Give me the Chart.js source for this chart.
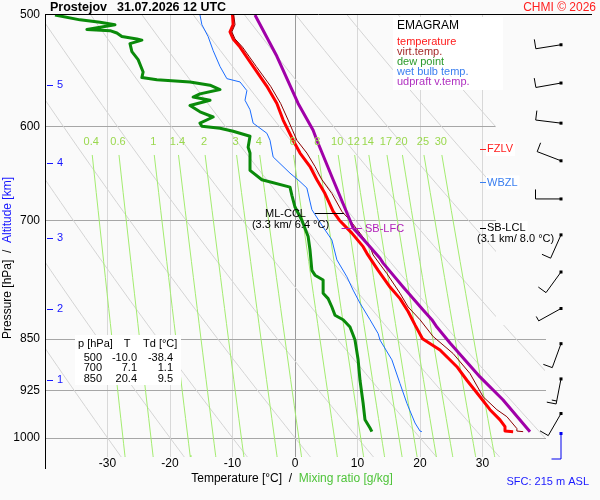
<!DOCTYPE html>
<html>
<head>
<meta charset="utf-8">
<title>Emagram Prostejov</title>
<script src="https://cdn.jsdelivr.net/npm/chart.js@4.4.1/dist/chart.umd.min.js"></script>
<style>
  html, body { margin: 0; padding: 0; background: #fafafa; }
  canvas { display: block; }
</style>
</head>
<body>
<canvas id="emagram" width="600" height="500"></canvas>
<script>
// sounding profiles, pressure [hPa] from the surface up, temperature [°C]
const tempP = [990, 989, 982, 971, 955, 935, 910, 890, 866, 850, 831, 813, 796, 781, 760, 739, 731, 715, 700, 690, 670, 655, 641, 627, 614, 594, 578, 562, 544, 527, 520, 514, 508, 500];
const tempT = [34.9, 33.6, 33.6, 32.8, 31.2, 29.6, 27.5, 25.9, 23.2, 20.4, 19.2, 18.1, 16.8, 15.2, 13.3, 11.5, 10.9, 9.1, 7.1, 6.1, 4.8, 3.5, 2.4, 0.8, -0.3, -1.9, -2.9, -4.5, -6.7, -8.8, -9.9, -10.4, -9.9, -10.0];

const virtP = [990, 989, 985, 966, 955, 935, 900, 871, 847, 824, 807, 789, 764, 741, 731, 715, 700, 690, 670, 655, 641, 627, 614, 604, 594, 578, 562, 544, 527, 520, 514, 508, 500];
const virtT = [36.5, 35.5, 35.5, 33.9, 32.3, 30.1, 28.0, 25.3, 22.1, 20.0, 18.1, 16.8, 14.7, 12.5, 12.0, 10.4, 8.8, 7.5, 5.9, 4.3, 3.2, 1.9, 0.3, -0.4, -1.1, -2.3, -3.9, -6.2, -8.4, -9.6, -10.1, -9.6, -9.8];

const dewP = [990, 984, 971, 945, 910, 880, 852, 845, 834, 824, 818, 807, 796, 789, 772, 766, 760, 735, 719, 700, 685, 672, 663, 655, 645, 627, 621, 610, 605, 602, 600, 597, 591, 586, 580, 575, 572, 569, 565, 561, 558, 556, 554, 549, 538, 531, 524, 521, 520, 518, 515, 513, 512, 508, 506, 504, 500];
const dewT = [12.3, 12.0, 11.2, 10.9, 10.4, 10.1, 9.6, 9.3, 8.8, 7.7, 6.4, 5.9, 5.3, 4.5, 4.5, 3.2, 2.7, 2.4, 2.1, 1.1, 0.0, -0.5, -0.8, -5.3, -7.2, -7.2, -7.5, -7.2, -9.9, -12.0, -14.9, -15.2, -13.1, -15.2, -16.8, -13.6, -16.3, -15.2, -12.0, -13.6, -16.8, -22.1, -24.5, -24.3, -25.1, -26.1, -26.4, -24.5, -25.3, -27.7, -28.5, -29.6, -33.3, -28.8, -31.2, -34.4, -38.4];

const wetP = [990, 989, 976, 945, 915, 880, 852, 843, 824, 802, 785, 768, 747, 723, 708, 688, 664, 657, 648, 631, 614, 607, 597, 584, 575, 566, 558, 555, 544, 530, 518, 508, 500];
const wetT = [20.3, 20.0, 19.2, 17.9, 16.8, 15.5, 13.6, 13.3, 12.0, 10.4, 9.3, 8.3, 6.7, 5.9, 4.5, 2.7, 1.9, 0.8, -0.8, -3.5, -4.0, -4.5, -6.7, -7.2, -8.0, -7.7, -8.8, -10.9, -12.0, -13.1, -13.9, -14.9, -15.2];

const parcelP = [990, 940, 905, 856, 834, 824, 811, 781, 751, 745, 727, 709, 700, 655, 614, 604, 578, 535, 500];
const parcelT = [37.6, 33.3, 29.6, 24.8, 22.7, 21.9, 20.5, 17.3, 14.1, 13.6, 11.5, 9.3, 8.8, 6.1, 3.5, 2.9, 0.5, -2.9, -6.4];

// axes and diagram lines
const tempTicks = [-30, -20, -10, 0, 10, 20, 30];
const pressureTicks = [500, 600, 700, 850, 925, 1000];
const altitudeKm = [1, 2, 3, 4, 5];
const altitudeP = [909, 809, 721, 637, 561];
const mixingRatios = [0.4, 0.6, 1, 1.4, 2, 3, 4, 6, 8, 10, 12, 14, 17, 20, 25, 30];
const mixLabelP = 629;
const dryAdiabats = [-30, -20, -10, 0, 10, 20, 30, 40, 50, 60, 70, 80, 90, 100, 110];

// winds: pressure, direction [deg], speed [kt]
const windP = [525, 559, 597, 635, 676, 717, 762, 809, 857, 908, 961];
const windDir = [261, 260, 277, 291, 270, 204, 216, 241, 200, 191, 210];
const windKt = [10, 10, 10, 10, 10, 10, 10, 5, 10, 15, 10];
const sfcWind = { p: 993, dir: 180, kt: 10 };

// table of standard levels
const tableP = [500, 700, 850];
const tableT = [-10.0, 7.1, 20.4];
const tableTd = [-38.4, 1.1, 9.5];

// diagnostic levels
const levelNames = ['FZLV', 'WBZL', 'SB-LCL'];
const levelP = [623, 658, 709];
const lclNote = '(3.1 km/ 8.0 °C)';
const ccl = { p: 692, t: 6.4, note: '(3.3 km/ 6.4 °C)' };
const lfc = { p: 709, t: 9.3 };

const FONT = '"Liberation Sans", Arial, sans-serif';

function pairs(ps, ts) {
    return ps.map((p, i) => ({ x: ts[i], y: p }));
}

function dewFromMix(w, p) {
    const e = w * p / (622 + w);
    const l = Math.log(e / 6.112);
    return 243.5 * l / (17.67 - l);
}

function dryAdiabat(t1000) {
    const theta = t1000 + 273.15;
    const pts = [];
    for (let p = 500; p <= 1040; p += 10) {
        pts.push({ x: theta * Math.pow(p / 1000, 0.2857) - 273.15, y: p });
    }
    return pts;
}

function mixingLine(w) {
    const pts = [];
    for (let p = mixLabelP; p < 1040; p += 20) pts.push({ x: dewFromMix(w, p), y: p });
    pts.push({ x: dewFromMix(w, 1040), y: 1040 });
    return pts;
}

const datasets = [];
dryAdiabats.forEach(t => datasets.push({
    data: dryAdiabat(t), borderColor: '#d4d4d4', borderWidth: 1, order: 20, stepClip: true
}));
mixingRatios.forEach(w => datasets.push({
    data: mixingLine(w), borderColor: '#a4ec70', borderWidth: 1, order: 19
}));
datasets.push({ label: 'wet bulb temp.', data: pairs(wetP, wetT), borderColor: '#1a6cff', borderWidth: 1, order: 5 });
datasets.push({ label: 'dew point', data: pairs(dewP, dewT), borderColor: '#0a8a0a', borderWidth: 3, order: 4 });
datasets.push({ label: 'temperature', data: pairs(tempP, tempT), borderColor: '#ff0000', borderWidth: 3, order: 3 });
datasets.push({ label: 'virt.temp.', data: pairs(virtP, virtT), borderColor: '#8b0000', borderWidth: 1, order: 2 });
datasets.push({ label: 'udpraft v.temp.', data: pairs(parcelP, parcelT), borderColor: '#a000a8', borderWidth: 3, order: 1 });
datasets.forEach(d => {
    d.showLine = true;
    d.pointRadius = 0;
    d.fill = false;
    d.tension = 0;
    d.borderJoinStyle = 'round';
});

function label(ctx, str, x, y, color, size, align, weight) {
    ctx.font = (weight || '') + ' ' + size + 'px ' + FONT;
    ctx.fillStyle = color;
    ctx.textAlign = align || 'left';
    ctx.textBaseline = 'middle';
    ctx.fillText(str, x, y);
}

function hline(ctx, x1, x2, y, color) {
    ctx.strokeStyle = color;
    ctx.lineWidth = 1;
    ctx.beginPath();
    ctx.moveTo(x1, Math.round(y) + 0.5);
    ctx.lineTo(x2, Math.round(y) + 0.5);
    ctx.stroke();
}

function drawBarb(ctx, x, y, dir, kt, color) {
    const a = dir * Math.PI / 180;
    const sx = Math.sin(a), sy = -Math.cos(a);
    const bx = -sy, by = sx;
    const L = 25.5;
    ctx.strokeStyle = color;
    ctx.fillStyle = color;
    ctx.lineWidth = 1;
    ctx.beginPath();
    ctx.moveTo(x, y);
    ctx.lineTo(x + sx * L, y + sy * L);
    const full = Math.floor(kt / 10);
    const half = kt % 10 >= 5;
    let pos = L;
    for (let i = 0; i < full; i++) {
        ctx.moveTo(x + sx * pos, y + sy * pos);
        ctx.lineTo(x + sx * pos + bx * 9.5, y + sy * pos + by * 9.5);
        pos -= 3;
    }
    if (half) {
        ctx.moveTo(x + sx * pos, y + sy * pos);
        ctx.lineTo(x + sx * pos + bx * 5, y + sy * pos + by * 5);
    }
    ctx.stroke();
    ctx.fillRect(x - 1.5, y - 1.5, 3, 3);
}

const decor = {
    id: 'decor',
    beforeDraw(chart) {
        const ctx = chart.ctx;
        ctx.save();
        ctx.fillStyle = '#fafafa';
        ctx.fillRect(0, 0, chart.width, chart.height);
        ctx.restore();
    },
    beforeDatasetsDraw(chart) {
        const ctx = chart.ctx, ys = chart.scales.y, area = chart.chartArea;
        ctx.save();
        pressureTicks.forEach(p => {
            if (p === 500) return;
            hline(ctx, area.left, p < 800 ? 496 : 546, ys.getPixelForValue(p), '#a6a6a6');
        });
        ctx.restore();
    },
    beforeDatasetDraw(chart, args) {
        const ds = chart.data.datasets[args.index];
        if (!ds.stepClip) return;
        const ctx = chart.ctx, a = chart.chartArea;
        ctx.save();
        ctx.beginPath();
        ctx.rect(a.left, a.top, 496 - a.left, 325 - a.top);
        ctx.rect(a.left, 325, 546 - a.left, a.bottom - 325);
        ctx.clip();
    },
    afterDatasetDraw(chart, args) {
        if (chart.data.datasets[args.index].stepClip) chart.ctx.restore();
    },
    afterDatasetsDraw(chart) {
        const ctx = chart.ctx, xs = chart.scales.x, ys = chart.scales.y, area = chart.chartArea;
        ctx.save();

        // frame
        hline(ctx, area.left, 592, area.top - 1, '#000');
        ctx.strokeStyle = '#000';
        ctx.beginPath();
        ctx.moveTo(area.left + 0.5, area.top - 1);
        ctx.lineTo(area.left + 0.5, 469);
        ctx.stroke();

        // mixing ratio labels
        mixingRatios.forEach(w => {
            const x = xs.getPixelForValue(dewFromMix(w, mixLabelP));
            label(ctx, String(w), x - 1, ys.getPixelForValue(mixLabelP) - 13, '#9ad84e', 11, 'center');
        });

        // altitude marks
        altitudeKm.forEach((km, i) => {
            const y = ys.getPixelForValue(altitudeP[i]);
            hline(ctx, 47, 53, y, '#1515ff');
            label(ctx, String(km), 57, y, '#1515ff', 11);
        });

        // legend box
        ctx.fillStyle = '#fff';
        ctx.fillRect(393, 17, 110, 73);
        label(ctx, 'EMAGRAM', 397, 26, '#000', 12);
        const legendTexts = ['temperature', 'virt.temp.', 'dew point', 'wet bulb temp.', 'udpraft v.temp.'];
        const legendColors = ['#ff1a1a', '#a52a2a', '#2a9a2a', '#3a7ff0', '#b030c0'];
        legendTexts.forEach((t, i) => label(ctx, t, 397, 42 + i * 10, legendColors[i], 11));

        // table
        ctx.fillStyle = '#fff';
        ctx.fillRect(75, 335, 106, 50);
        label(ctx, 'p [hPa]', 78, 344, '#000', 11);
        label(ctx, 'T', 127, 344, '#000', 11, 'center');
        label(ctx, 'Td [°C]', 143, 344, '#000', 11);
        tableP.forEach((p, i) => {
            const y = 358 + i * 10.3;
            label(ctx, String(p), 102, y, '#000', 11, 'right');
            label(ctx, tableT[i].toFixed(1), 137, y, '#000', 11, 'right');
            label(ctx, tableTd[i].toFixed(1), 173, y, '#000', 11, 'right');
        });

        // level markers on the right
        const levelColors = ['#ff2020', '#3a7ff0', '#000'];
        levelNames.forEach((n, i) => {
            const y = ys.getPixelForValue(levelP[i]);
            ctx.font = '11px ' + FONT;
            const w = ctx.measureText(n).width;
            ctx.fillStyle = '#fff';
            ctx.fillRect(486, y - 7, w + 3, 14);
            hline(ctx, 480, 486, y, levelColors[i]);
            label(ctx, n, 487, y, levelColors[i], 11);
        });
        const lclY = ys.getPixelForValue(levelP[2]);
        label(ctx, lclNote, 477, lclY + 11, '#000', 11);

        // ML-CCL
        const cclY = ys.getPixelForValue(ccl.p);
        hline(ctx, xs.getPixelForValue(ccl.t - 3.2), xs.getPixelForValue(ccl.t + 1.45), cclY, '#000');
        label(ctx, 'ML-CCL', 285.5, cclY + 1, '#000', 11, 'center');
        label(ctx, ccl.note, 290.5, cclY + 12, '#000', 11, 'center');

        // SB-LFC
        const lfcY = ys.getPixelForValue(lfc.p);
        hline(ctx, xs.getPixelForValue(lfc.t - 1.85), xs.getPixelForValue(lfc.t + 1.4), lfcY, '#b020b8');
        label(ctx, 'SB-LFC', 365, lfcY + 1, '#b020b8', 11);

        // wind barbs
        windP.forEach((p, i) => drawBarb(ctx, 561, ys.getPixelForValue(p), windDir[i], windKt[i], '#000'));
        drawBarb(ctx, 561, ys.getPixelForValue(sfcWind.p), sfcWind.dir, sfcWind.kt, '#0000ee');
        label(ctx, 'SFC: 215 m ASL', 589, 481.5, '#1a1aff', 11, 'right');

        // titles
        label(ctx, 'Prostejov', 50, 7.5, '#000', 12.5, 'left', 'bold');
        label(ctx, '31.07.2026 12 UTC', 117, 7.5, '#000', 12.5, 'left', 'bold');
        label(ctx, 'CHMI © 2026', 596, 7.5, '#ff2020', 12, 'right');

        // x axis title
        ctx.font = '12px ' + FONT;
        const xt1 = 'Temperature [°C]  /  ', xt2 = 'Mixing ratio [g/kg]';
        const w1 = ctx.measureText(xt1).width, w2 = ctx.measureText(xt2).width;
        const x0 = 292 - (w1 + w2) / 2;
        label(ctx, xt1, x0, 479, '#000', 12);
        label(ctx, xt2, x0 + w1, 479, '#4fc43a', 12);

        // y axis title
        ctx.translate(8, 258);
        ctx.rotate(-Math.PI / 2);
        ctx.font = '12px ' + FONT;
        const yt1 = 'Pressure [hPa]  /  ', yt2 = 'Altitude [km]';
        const v1 = ctx.measureText(yt1).width, v2 = ctx.measureText(yt2).width;
        label(ctx, yt1, -(v1 + v2) / 2, 0, '#000', 12);
        label(ctx, yt2, -(v1 + v2) / 2 + v1, 0, '#1515ff', 12);

        ctx.restore();
    }
};

new Chart(document.getElementById('emagram'), {
    type: 'scatter',
    data: { datasets: datasets },
    options: {
        responsive: false,
        animation: false,
        events: [],
        layout: { padding: { top: 15, right: 55, bottom: 0, left: 0 } },
        plugins: {
            legend: { display: false },
            title: { display: false },
            tooltip: { enabled: false }
        },
        scales: {
            x: {
                type: 'linear',
                min: -40,
                max: 40,
                afterFit(scale) { scale.height = 43; },
                afterBuildTicks(scale) { scale.ticks = tempTicks.map(v => ({ value: v })); },
                grid: {
                    color: c => (c.tick && c.tick.value === 0 ? '#9a9a9a' : '#d8d8d8'),
                    drawTicks: false,
                    lineWidth: 1
                },
                border: { display: false },
                ticks: {
                    padding: -1,
                    maxRotation: 0,
                    autoSkip: false,
                    color: '#000',
                    font: { family: FONT, size: 12 },
                    callback: v => String(v)
                }
            },
            y: {
                type: 'logarithmic',
                reverse: true,
                min: 500,
                max: 1032,
                afterFit(scale) { scale.width = 45; },
                afterBuildTicks(scale) { scale.ticks = pressureTicks.map(v => ({ value: v })); },
                grid: { display: false, drawTicks: false },
                border: { display: false },
                ticks: {
                    padding: 5,
                    autoSkip: false,
                    color: '#000',
                    font: { family: FONT, size: 12 },
                    callback: v => String(v)
                }
            }
        }
    },
    plugins: [decor]
});
</script>
</body>
</html>
